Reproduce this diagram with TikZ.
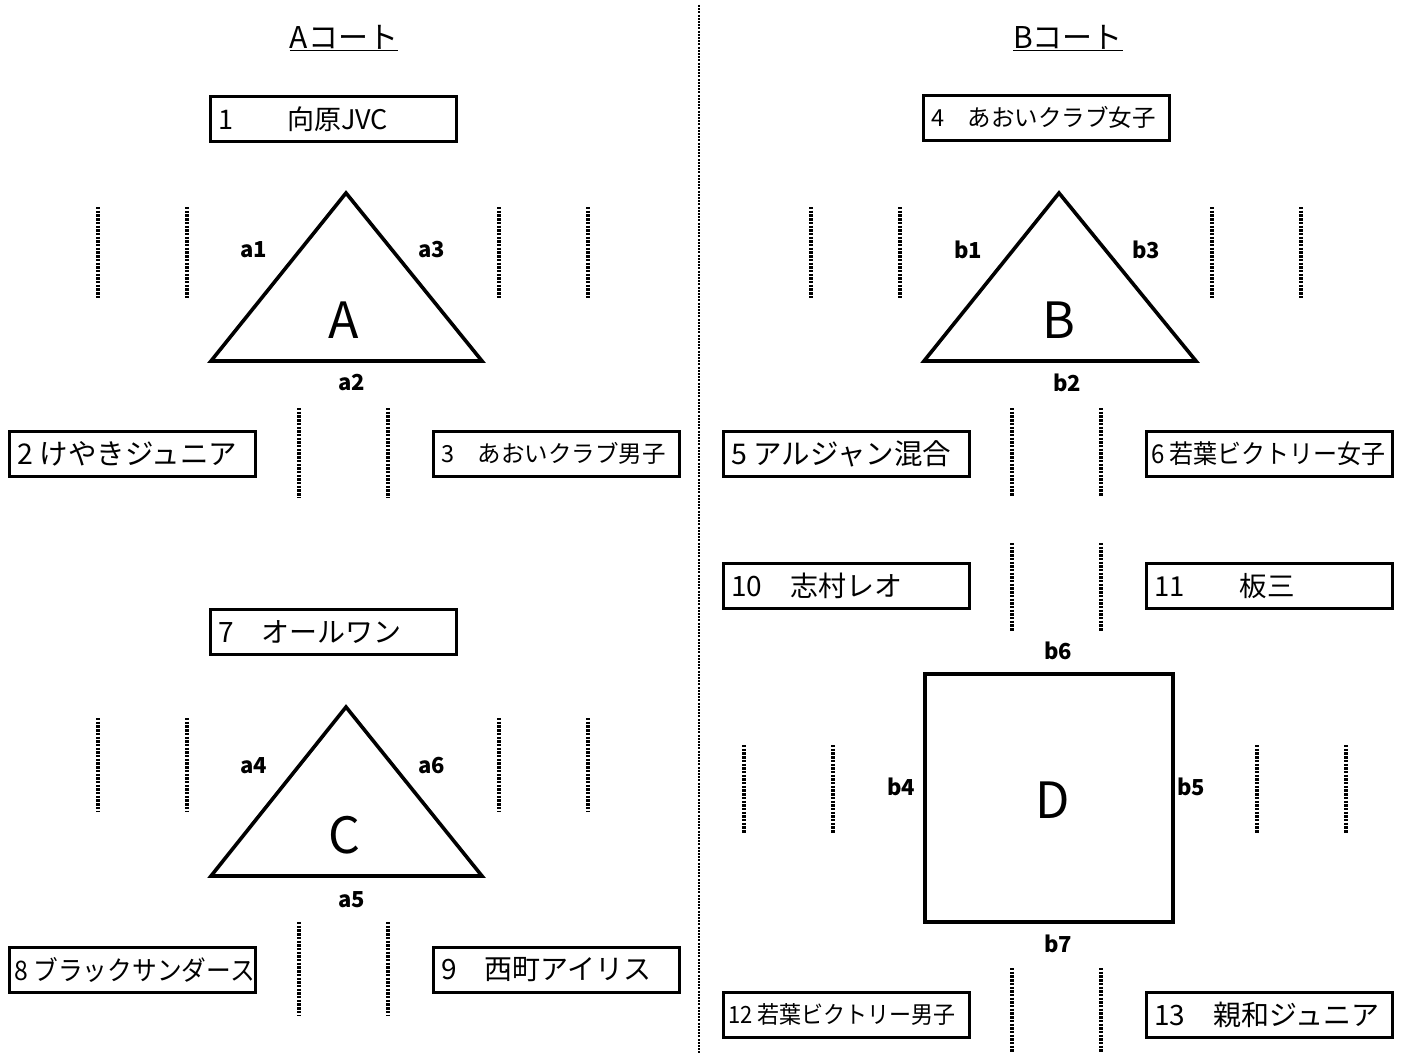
\documentclass[tikz,border=0pt]{standalone}
\usepackage{fontspec}
\setmainfont{Noto Sans CJK JP}
\newfontfamily\jp{Noto Sans CJK JP}
\begin{document}
\begin{tikzpicture}[x=1pt,y=-1pt,
  team/.style={draw, line width=2.6pt, minimum width=246pt, minimum height=45pt, inner sep=0pt, anchor=north west},
  dotv/.style={line width=3.2pt, dash pattern=on 2.4pt off 1.3pt},
  mid/.style={line width=1.4pt, dash pattern=on 2pt off 1.2pt},
  shapeline/.style={line width=3.6pt, line join=miter},
  lab/.style={font=\jp\bfseries\fontsize{22}{24}\selectfont, inner sep=0pt},
  big/.style={font=\jp\fontsize{50}{52}\selectfont, inner sep=0pt},
  ttl/.style={font=\jp\fontsize{30}{32}\selectfont, inner sep=0pt}]
\useasboundingbox (0,0) rectangle (1402,1054);
\fill[white] (0,0) rectangle (1402,1054);
% centre divider
\coordinate (mtop) at (699,5);
\coordinate (mbot) at (699,1054);
\draw[mid] (mtop) -- (mbot);
% titles
\node[ttl] (tA) at (344,38) {\underline{Aコート}};
\node[ttl] (tB) at (1068,38) {\underline{Bコート}};
% team boxes
\newcommand{\tb}[4]{\node[team] (#1) at (#2) {\makebox[240pt][l]{\hspace{5pt}\fontsize{#3}{#3}\selectfont #4}};}
\tb{t1}{209,95}{27}{1　　向原JVC}
\tb{t4}{922,94}{23.5}{4　あおいクラブ女子}
\tb{t2}{8,430}{28.5}{2 けやきジュニア}
\tb{t3}{432,430}{23.5}{3　あおいクラブ男子}
\tb{t5}{722,430}{28.5}{5 アルジャン混合}
\tb{t6}{1145,430}{24}{\hspace{-3pt}\scalebox{1.0}[1.08]{6 若葉ビクトリー女子}}
\tb{t10}{722,562}{28}{10　志村レオ}
\tb{t11}{1145,562}{27.5}{11　　板三}
\tb{t7}{209,608}{28}{7　オールワン}
\tb{t8}{8,946}{24}{\hspace{-3pt}\scalebox{1.03}[1.12]{8 ブラックサンダース}}
\tb{t9}{432,946}{28}{9　西町アイリス}
\tb{t12}{722,991}{22}{\hspace{-3pt}\scalebox{1.0}[1.08]{12 若葉ビクトリー男子}}
\tb{t13}{1145,991}{28}{13　親和ジュニア}
% triangle A
\draw[shapeline] (346,193) -- (482,361) -- (211,361) -- cycle;
\node[big] (A) at (344,320) {A};
\node[lab] (a1) at (254,250) {a1};
\node[lab] (a3) at (432,250) {a3};
\node[lab] (a2) at (352,383) {a2};
% triangle C
\draw[shapeline] (346,707) -- (482,876) -- (211,876) -- cycle;
\node[big] (C) at (344,835) {C};
\node[lab] (a4) at (254,766) {a4};
\node[lab] (a6) at (432,766) {a6};
\node[lab] (a5) at (352,900) {a5};
% triangle B
\draw[shapeline] (1059,193) -- (1196,361) -- (924,361) -- cycle;
\node[big] (B) at (1059,320) {B};
\node[lab] (b1) at (968,250) {b1};
\node[lab] (b3) at (1146,250) {b3};
\node[lab] (b2) at (1067,383) {b2};
% square D
\draw[shapeline] (925,674) rectangle (1173,922);
\node[big] (D) at (1053,800) {D};
\node[lab] (b6) at (1058,651) {b6};
\node[lab] (b4) at (901,787) {b4};
\node[lab] (b5) at (1191,787) {b5};
\node[lab] (b7) at (1058,944) {b7};
% dotted verticals
\foreach \x in {98,187,499,588} {\draw[dotv] (\x,207) -- (\x,298); \draw[dotv] (\x,718) -- (\x,811);}
\foreach \x in {811,900,1212,1301} {\draw[dotv] (\x,207) -- (\x,298);}
\foreach \x in {299,388} {\draw[dotv] (\x,408) -- (\x,497); \draw[dotv] (\x,922) -- (\x,1015);}
\foreach \x in {1012,1101} {\draw[dotv] (\x,408) -- (\x,496); \draw[dotv] (\x,543) -- (\x,631); \draw[dotv] (\x,968) -- (\x,1053);}
\foreach \x in {744,833,1257,1346} {\draw[dotv] (\x,745) -- (\x,833);}
\end{tikzpicture}
\end{document}
